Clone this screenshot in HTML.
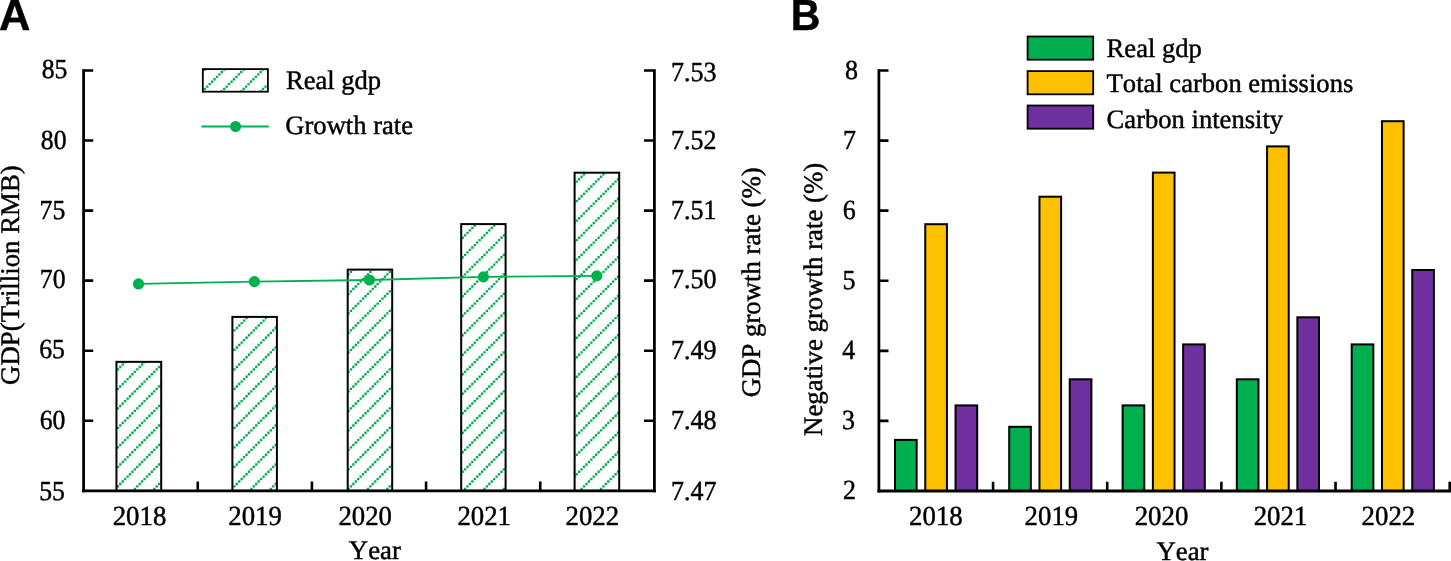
<!DOCTYPE html>
<html><head><meta charset="utf-8"><title>Figure</title>
<style>
html,body{margin:0;padding:0;background:#fff;}
body{width:1451px;height:561px;overflow:hidden;}
svg{display:block;will-change:transform;}
svg text{font-family:"Liberation Serif",serif;fill:#000;font-kerning:none;text-rendering:geometricPrecision;stroke:#000;stroke-width:0.45px;stroke-linejoin:round;}
</style></head><body>
<svg width="1451" height="561" viewBox="0 0 1451 561">
<rect width="1451" height="561" fill="#fff"/>
<defs>
<clipPath id="ca0"><rect x="116.45" y="361.85" width="44.75" height="129.00"/></clipPath>
<clipPath id="ca1"><rect x="232.4" y="316.9" width="44.50" height="173.95"/></clipPath>
<clipPath id="ca2"><rect x="347.7" y="269.6" width="44.50" height="221.25"/></clipPath>
<clipPath id="ca3"><rect x="461.2" y="224.1" width="44.40" height="266.75"/></clipPath>
<clipPath id="ca4"><rect x="574.6" y="172.7" width="44.60" height="318.15"/></clipPath>
<clipPath id="cl"><rect x="202.8" y="69.1" width="65.1" height="22.6"/></clipPath>
</defs>
<path clip-path="url(#ca0)" d="M114.26 370.66h2.35v2.35h-2.35zM114.26 390.16h2.35v2.35h-2.35zM114.26 409.67h2.35v2.35h-2.35zM114.26 429.17h2.35v2.35h-2.35zM114.26 448.68h2.35v2.35h-2.35zM114.26 468.18h2.35v2.35h-2.35zM114.26 487.68h2.35v2.35h-2.35zM116.69 368.22h2.35v2.35h-2.35zM116.69 387.72h2.35v2.35h-2.35zM116.69 407.23h2.35v2.35h-2.35zM116.69 426.73h2.35v2.35h-2.35zM116.69 446.24h2.35v2.35h-2.35zM116.69 465.74h2.35v2.35h-2.35zM116.69 485.25h2.35v2.35h-2.35zM119.11 365.78h2.35v2.35h-2.35zM119.11 385.29h2.35v2.35h-2.35zM119.11 404.79h2.35v2.35h-2.35zM119.11 424.30h2.35v2.35h-2.35zM119.11 443.80h2.35v2.35h-2.35zM119.11 463.30h2.35v2.35h-2.35zM119.11 482.81h2.35v2.35h-2.35zM121.54 363.34h2.35v2.35h-2.35zM121.54 382.85h2.35v2.35h-2.35zM121.54 402.35h2.35v2.35h-2.35zM121.54 421.86h2.35v2.35h-2.35zM121.54 441.36h2.35v2.35h-2.35zM121.54 460.87h2.35v2.35h-2.35zM121.54 480.37h2.35v2.35h-2.35zM123.97 360.91h2.35v2.35h-2.35zM123.97 380.41h2.35v2.35h-2.35zM123.97 399.92h2.35v2.35h-2.35zM123.97 419.42h2.35v2.35h-2.35zM123.97 438.92h2.35v2.35h-2.35zM123.97 458.43h2.35v2.35h-2.35zM123.97 477.93h2.35v2.35h-2.35zM126.40 377.97h2.35v2.35h-2.35zM126.40 397.48h2.35v2.35h-2.35zM126.40 416.98h2.35v2.35h-2.35zM126.40 436.49h2.35v2.35h-2.35zM126.40 455.99h2.35v2.35h-2.35zM126.40 475.49h2.35v2.35h-2.35zM128.82 375.54h2.35v2.35h-2.35zM128.82 395.04h2.35v2.35h-2.35zM128.82 414.54h2.35v2.35h-2.35zM128.82 434.05h2.35v2.35h-2.35zM128.82 453.55h2.35v2.35h-2.35zM128.82 473.06h2.35v2.35h-2.35zM131.25 373.10h2.35v2.35h-2.35zM131.25 392.60h2.35v2.35h-2.35zM131.25 412.11h2.35v2.35h-2.35zM131.25 431.61h2.35v2.35h-2.35zM131.25 451.11h2.35v2.35h-2.35zM131.25 470.62h2.35v2.35h-2.35zM131.25 490.12h2.35v2.35h-2.35zM133.68 370.66h2.35v2.35h-2.35zM133.68 390.16h2.35v2.35h-2.35zM133.68 409.67h2.35v2.35h-2.35zM133.68 429.17h2.35v2.35h-2.35zM133.68 448.68h2.35v2.35h-2.35zM133.68 468.18h2.35v2.35h-2.35zM133.68 487.68h2.35v2.35h-2.35zM136.11 368.22h2.35v2.35h-2.35zM136.11 387.72h2.35v2.35h-2.35zM136.11 407.23h2.35v2.35h-2.35zM136.11 426.73h2.35v2.35h-2.35zM136.11 446.24h2.35v2.35h-2.35zM136.11 465.74h2.35v2.35h-2.35zM136.11 485.25h2.35v2.35h-2.35zM138.54 365.78h2.35v2.35h-2.35zM138.54 385.29h2.35v2.35h-2.35zM138.54 404.79h2.35v2.35h-2.35zM138.54 424.30h2.35v2.35h-2.35zM138.54 443.80h2.35v2.35h-2.35zM138.54 463.30h2.35v2.35h-2.35zM138.54 482.81h2.35v2.35h-2.35zM140.96 363.34h2.35v2.35h-2.35zM140.96 382.85h2.35v2.35h-2.35zM140.96 402.35h2.35v2.35h-2.35zM140.96 421.86h2.35v2.35h-2.35zM140.96 441.36h2.35v2.35h-2.35zM140.96 460.87h2.35v2.35h-2.35zM140.96 480.37h2.35v2.35h-2.35zM143.39 360.91h2.35v2.35h-2.35zM143.39 380.41h2.35v2.35h-2.35zM143.39 399.92h2.35v2.35h-2.35zM143.39 419.42h2.35v2.35h-2.35zM143.39 438.92h2.35v2.35h-2.35zM143.39 458.43h2.35v2.35h-2.35zM143.39 477.93h2.35v2.35h-2.35zM145.82 377.97h2.35v2.35h-2.35zM145.82 397.48h2.35v2.35h-2.35zM145.82 416.98h2.35v2.35h-2.35zM145.82 436.49h2.35v2.35h-2.35zM145.82 455.99h2.35v2.35h-2.35zM145.82 475.49h2.35v2.35h-2.35zM148.25 375.54h2.35v2.35h-2.35zM148.25 395.04h2.35v2.35h-2.35zM148.25 414.54h2.35v2.35h-2.35zM148.25 434.05h2.35v2.35h-2.35zM148.25 453.55h2.35v2.35h-2.35zM148.25 473.06h2.35v2.35h-2.35zM150.68 373.10h2.35v2.35h-2.35zM150.68 392.60h2.35v2.35h-2.35zM150.68 412.11h2.35v2.35h-2.35zM150.68 431.61h2.35v2.35h-2.35zM150.68 451.11h2.35v2.35h-2.35zM150.68 470.62h2.35v2.35h-2.35zM150.68 490.12h2.35v2.35h-2.35zM153.10 370.66h2.35v2.35h-2.35zM153.10 390.16h2.35v2.35h-2.35zM153.10 409.67h2.35v2.35h-2.35zM153.10 429.17h2.35v2.35h-2.35zM153.10 448.68h2.35v2.35h-2.35zM153.10 468.18h2.35v2.35h-2.35zM153.10 487.68h2.35v2.35h-2.35zM155.53 368.22h2.35v2.35h-2.35zM155.53 387.72h2.35v2.35h-2.35zM155.53 407.23h2.35v2.35h-2.35zM155.53 426.73h2.35v2.35h-2.35zM155.53 446.24h2.35v2.35h-2.35zM155.53 465.74h2.35v2.35h-2.35zM155.53 485.25h2.35v2.35h-2.35zM157.96 365.78h2.35v2.35h-2.35zM157.96 385.29h2.35v2.35h-2.35zM157.96 404.79h2.35v2.35h-2.35zM157.96 424.30h2.35v2.35h-2.35zM157.96 443.80h2.35v2.35h-2.35zM157.96 463.30h2.35v2.35h-2.35zM157.96 482.81h2.35v2.35h-2.35zM160.39 363.34h2.35v2.35h-2.35zM160.39 382.85h2.35v2.35h-2.35zM160.39 402.35h2.35v2.35h-2.35zM160.39 421.86h2.35v2.35h-2.35zM160.39 441.36h2.35v2.35h-2.35zM160.39 460.87h2.35v2.35h-2.35zM160.39 480.37h2.35v2.35h-2.35z" fill="#00B050" stroke="none"/>
<rect x="116.45" y="361.85" width="44.75" height="129.00" fill="none" stroke="#000" stroke-width="2"/>
<path clip-path="url(#ca1)" d="M230.80 331.65h2.35v2.35h-2.35zM230.80 351.16h2.35v2.35h-2.35zM230.80 370.66h2.35v2.35h-2.35zM230.80 390.16h2.35v2.35h-2.35zM230.80 409.67h2.35v2.35h-2.35zM230.80 429.17h2.35v2.35h-2.35zM230.80 448.68h2.35v2.35h-2.35zM230.80 468.18h2.35v2.35h-2.35zM230.80 487.68h2.35v2.35h-2.35zM233.23 329.21h2.35v2.35h-2.35zM233.23 348.72h2.35v2.35h-2.35zM233.23 368.22h2.35v2.35h-2.35zM233.23 387.72h2.35v2.35h-2.35zM233.23 407.23h2.35v2.35h-2.35zM233.23 426.73h2.35v2.35h-2.35zM233.23 446.24h2.35v2.35h-2.35zM233.23 465.74h2.35v2.35h-2.35zM233.23 485.25h2.35v2.35h-2.35zM235.66 326.78h2.35v2.35h-2.35zM235.66 346.28h2.35v2.35h-2.35zM235.66 365.78h2.35v2.35h-2.35zM235.66 385.29h2.35v2.35h-2.35zM235.66 404.79h2.35v2.35h-2.35zM235.66 424.30h2.35v2.35h-2.35zM235.66 443.80h2.35v2.35h-2.35zM235.66 463.30h2.35v2.35h-2.35zM235.66 482.81h2.35v2.35h-2.35zM238.08 324.34h2.35v2.35h-2.35zM238.08 343.84h2.35v2.35h-2.35zM238.08 363.34h2.35v2.35h-2.35zM238.08 382.85h2.35v2.35h-2.35zM238.08 402.35h2.35v2.35h-2.35zM238.08 421.86h2.35v2.35h-2.35zM238.08 441.36h2.35v2.35h-2.35zM238.08 460.87h2.35v2.35h-2.35zM238.08 480.37h2.35v2.35h-2.35zM240.51 321.90h2.35v2.35h-2.35zM240.51 341.40h2.35v2.35h-2.35zM240.51 360.91h2.35v2.35h-2.35zM240.51 380.41h2.35v2.35h-2.35zM240.51 399.92h2.35v2.35h-2.35zM240.51 419.42h2.35v2.35h-2.35zM240.51 438.92h2.35v2.35h-2.35zM240.51 458.43h2.35v2.35h-2.35zM240.51 477.93h2.35v2.35h-2.35zM242.94 319.46h2.35v2.35h-2.35zM242.94 338.96h2.35v2.35h-2.35zM242.94 358.47h2.35v2.35h-2.35zM242.94 377.97h2.35v2.35h-2.35zM242.94 397.48h2.35v2.35h-2.35zM242.94 416.98h2.35v2.35h-2.35zM242.94 436.49h2.35v2.35h-2.35zM242.94 455.99h2.35v2.35h-2.35zM242.94 475.49h2.35v2.35h-2.35zM245.37 317.02h2.35v2.35h-2.35zM245.37 336.53h2.35v2.35h-2.35zM245.37 356.03h2.35v2.35h-2.35zM245.37 375.54h2.35v2.35h-2.35zM245.37 395.04h2.35v2.35h-2.35zM245.37 414.54h2.35v2.35h-2.35zM245.37 434.05h2.35v2.35h-2.35zM245.37 453.55h2.35v2.35h-2.35zM245.37 473.06h2.35v2.35h-2.35zM247.80 314.58h2.35v2.35h-2.35zM247.80 334.09h2.35v2.35h-2.35zM247.80 353.59h2.35v2.35h-2.35zM247.80 373.10h2.35v2.35h-2.35zM247.80 392.60h2.35v2.35h-2.35zM247.80 412.11h2.35v2.35h-2.35zM247.80 431.61h2.35v2.35h-2.35zM247.80 451.11h2.35v2.35h-2.35zM247.80 470.62h2.35v2.35h-2.35zM247.80 490.12h2.35v2.35h-2.35zM250.22 331.65h2.35v2.35h-2.35zM250.22 351.16h2.35v2.35h-2.35zM250.22 370.66h2.35v2.35h-2.35zM250.22 390.16h2.35v2.35h-2.35zM250.22 409.67h2.35v2.35h-2.35zM250.22 429.17h2.35v2.35h-2.35zM250.22 448.68h2.35v2.35h-2.35zM250.22 468.18h2.35v2.35h-2.35zM250.22 487.68h2.35v2.35h-2.35zM252.65 329.21h2.35v2.35h-2.35zM252.65 348.72h2.35v2.35h-2.35zM252.65 368.22h2.35v2.35h-2.35zM252.65 387.72h2.35v2.35h-2.35zM252.65 407.23h2.35v2.35h-2.35zM252.65 426.73h2.35v2.35h-2.35zM252.65 446.24h2.35v2.35h-2.35zM252.65 465.74h2.35v2.35h-2.35zM252.65 485.25h2.35v2.35h-2.35zM255.08 326.78h2.35v2.35h-2.35zM255.08 346.28h2.35v2.35h-2.35zM255.08 365.78h2.35v2.35h-2.35zM255.08 385.29h2.35v2.35h-2.35zM255.08 404.79h2.35v2.35h-2.35zM255.08 424.30h2.35v2.35h-2.35zM255.08 443.80h2.35v2.35h-2.35zM255.08 463.30h2.35v2.35h-2.35zM255.08 482.81h2.35v2.35h-2.35zM257.51 324.34h2.35v2.35h-2.35zM257.51 343.84h2.35v2.35h-2.35zM257.51 363.34h2.35v2.35h-2.35zM257.51 382.85h2.35v2.35h-2.35zM257.51 402.35h2.35v2.35h-2.35zM257.51 421.86h2.35v2.35h-2.35zM257.51 441.36h2.35v2.35h-2.35zM257.51 460.87h2.35v2.35h-2.35zM257.51 480.37h2.35v2.35h-2.35zM259.94 321.90h2.35v2.35h-2.35zM259.94 341.40h2.35v2.35h-2.35zM259.94 360.91h2.35v2.35h-2.35zM259.94 380.41h2.35v2.35h-2.35zM259.94 399.92h2.35v2.35h-2.35zM259.94 419.42h2.35v2.35h-2.35zM259.94 438.92h2.35v2.35h-2.35zM259.94 458.43h2.35v2.35h-2.35zM259.94 477.93h2.35v2.35h-2.35zM262.36 319.46h2.35v2.35h-2.35zM262.36 338.96h2.35v2.35h-2.35zM262.36 358.47h2.35v2.35h-2.35zM262.36 377.97h2.35v2.35h-2.35zM262.36 397.48h2.35v2.35h-2.35zM262.36 416.98h2.35v2.35h-2.35zM262.36 436.49h2.35v2.35h-2.35zM262.36 455.99h2.35v2.35h-2.35zM262.36 475.49h2.35v2.35h-2.35zM264.79 317.02h2.35v2.35h-2.35zM264.79 336.53h2.35v2.35h-2.35zM264.79 356.03h2.35v2.35h-2.35zM264.79 375.54h2.35v2.35h-2.35zM264.79 395.04h2.35v2.35h-2.35zM264.79 414.54h2.35v2.35h-2.35zM264.79 434.05h2.35v2.35h-2.35zM264.79 453.55h2.35v2.35h-2.35zM264.79 473.06h2.35v2.35h-2.35zM267.22 314.58h2.35v2.35h-2.35zM267.22 334.09h2.35v2.35h-2.35zM267.22 353.59h2.35v2.35h-2.35zM267.22 373.10h2.35v2.35h-2.35zM267.22 392.60h2.35v2.35h-2.35zM267.22 412.11h2.35v2.35h-2.35zM267.22 431.61h2.35v2.35h-2.35zM267.22 451.11h2.35v2.35h-2.35zM267.22 470.62h2.35v2.35h-2.35zM267.22 490.12h2.35v2.35h-2.35zM269.65 331.65h2.35v2.35h-2.35zM269.65 351.16h2.35v2.35h-2.35zM269.65 370.66h2.35v2.35h-2.35zM269.65 390.16h2.35v2.35h-2.35zM269.65 409.67h2.35v2.35h-2.35zM269.65 429.17h2.35v2.35h-2.35zM269.65 448.68h2.35v2.35h-2.35zM269.65 468.18h2.35v2.35h-2.35zM269.65 487.68h2.35v2.35h-2.35zM272.08 329.21h2.35v2.35h-2.35zM272.08 348.72h2.35v2.35h-2.35zM272.08 368.22h2.35v2.35h-2.35zM272.08 387.72h2.35v2.35h-2.35zM272.08 407.23h2.35v2.35h-2.35zM272.08 426.73h2.35v2.35h-2.35zM272.08 446.24h2.35v2.35h-2.35zM272.08 465.74h2.35v2.35h-2.35zM272.08 485.25h2.35v2.35h-2.35zM274.50 326.78h2.35v2.35h-2.35zM274.50 346.28h2.35v2.35h-2.35zM274.50 365.78h2.35v2.35h-2.35zM274.50 385.29h2.35v2.35h-2.35zM274.50 404.79h2.35v2.35h-2.35zM274.50 424.30h2.35v2.35h-2.35zM274.50 443.80h2.35v2.35h-2.35zM274.50 463.30h2.35v2.35h-2.35zM274.50 482.81h2.35v2.35h-2.35zM276.93 324.34h2.35v2.35h-2.35zM276.93 343.84h2.35v2.35h-2.35zM276.93 363.34h2.35v2.35h-2.35zM276.93 382.85h2.35v2.35h-2.35zM276.93 402.35h2.35v2.35h-2.35zM276.93 421.86h2.35v2.35h-2.35zM276.93 441.36h2.35v2.35h-2.35zM276.93 460.87h2.35v2.35h-2.35zM276.93 480.37h2.35v2.35h-2.35z" fill="#00B050" stroke="none"/>
<rect x="232.4" y="316.9" width="44.50" height="173.95" fill="none" stroke="#000" stroke-width="2"/>
<path clip-path="url(#ca2)" d="M344.92 275.58h2.35v2.35h-2.35zM344.92 295.08h2.35v2.35h-2.35zM344.92 314.58h2.35v2.35h-2.35zM344.92 334.09h2.35v2.35h-2.35zM344.92 353.59h2.35v2.35h-2.35zM344.92 373.10h2.35v2.35h-2.35zM344.92 392.60h2.35v2.35h-2.35zM344.92 412.11h2.35v2.35h-2.35zM344.92 431.61h2.35v2.35h-2.35zM344.92 451.11h2.35v2.35h-2.35zM344.92 470.62h2.35v2.35h-2.35zM344.92 490.12h2.35v2.35h-2.35zM347.34 273.14h2.35v2.35h-2.35zM347.34 292.64h2.35v2.35h-2.35zM347.34 312.15h2.35v2.35h-2.35zM347.34 331.65h2.35v2.35h-2.35zM347.34 351.16h2.35v2.35h-2.35zM347.34 370.66h2.35v2.35h-2.35zM347.34 390.16h2.35v2.35h-2.35zM347.34 409.67h2.35v2.35h-2.35zM347.34 429.17h2.35v2.35h-2.35zM347.34 448.68h2.35v2.35h-2.35zM347.34 468.18h2.35v2.35h-2.35zM347.34 487.68h2.35v2.35h-2.35zM349.77 270.70h2.35v2.35h-2.35zM349.77 290.20h2.35v2.35h-2.35zM349.77 309.71h2.35v2.35h-2.35zM349.77 329.21h2.35v2.35h-2.35zM349.77 348.72h2.35v2.35h-2.35zM349.77 368.22h2.35v2.35h-2.35zM349.77 387.72h2.35v2.35h-2.35zM349.77 407.23h2.35v2.35h-2.35zM349.77 426.73h2.35v2.35h-2.35zM349.77 446.24h2.35v2.35h-2.35zM349.77 465.74h2.35v2.35h-2.35zM349.77 485.25h2.35v2.35h-2.35zM352.20 268.26h2.35v2.35h-2.35zM352.20 287.77h2.35v2.35h-2.35zM352.20 307.27h2.35v2.35h-2.35zM352.20 326.78h2.35v2.35h-2.35zM352.20 346.28h2.35v2.35h-2.35zM352.20 365.78h2.35v2.35h-2.35zM352.20 385.29h2.35v2.35h-2.35zM352.20 404.79h2.35v2.35h-2.35zM352.20 424.30h2.35v2.35h-2.35zM352.20 443.80h2.35v2.35h-2.35zM352.20 463.30h2.35v2.35h-2.35zM352.20 482.81h2.35v2.35h-2.35zM354.63 285.33h2.35v2.35h-2.35zM354.63 304.83h2.35v2.35h-2.35zM354.63 324.34h2.35v2.35h-2.35zM354.63 343.84h2.35v2.35h-2.35zM354.63 363.34h2.35v2.35h-2.35zM354.63 382.85h2.35v2.35h-2.35zM354.63 402.35h2.35v2.35h-2.35zM354.63 421.86h2.35v2.35h-2.35zM354.63 441.36h2.35v2.35h-2.35zM354.63 460.87h2.35v2.35h-2.35zM354.63 480.37h2.35v2.35h-2.35zM357.06 282.89h2.35v2.35h-2.35zM357.06 302.39h2.35v2.35h-2.35zM357.06 321.90h2.35v2.35h-2.35zM357.06 341.40h2.35v2.35h-2.35zM357.06 360.91h2.35v2.35h-2.35zM357.06 380.41h2.35v2.35h-2.35zM357.06 399.92h2.35v2.35h-2.35zM357.06 419.42h2.35v2.35h-2.35zM357.06 438.92h2.35v2.35h-2.35zM357.06 458.43h2.35v2.35h-2.35zM357.06 477.93h2.35v2.35h-2.35zM359.48 280.45h2.35v2.35h-2.35zM359.48 299.96h2.35v2.35h-2.35zM359.48 319.46h2.35v2.35h-2.35zM359.48 338.96h2.35v2.35h-2.35zM359.48 358.47h2.35v2.35h-2.35zM359.48 377.97h2.35v2.35h-2.35zM359.48 397.48h2.35v2.35h-2.35zM359.48 416.98h2.35v2.35h-2.35zM359.48 436.49h2.35v2.35h-2.35zM359.48 455.99h2.35v2.35h-2.35zM359.48 475.49h2.35v2.35h-2.35zM361.91 278.01h2.35v2.35h-2.35zM361.91 297.52h2.35v2.35h-2.35zM361.91 317.02h2.35v2.35h-2.35zM361.91 336.53h2.35v2.35h-2.35zM361.91 356.03h2.35v2.35h-2.35zM361.91 375.54h2.35v2.35h-2.35zM361.91 395.04h2.35v2.35h-2.35zM361.91 414.54h2.35v2.35h-2.35zM361.91 434.05h2.35v2.35h-2.35zM361.91 453.55h2.35v2.35h-2.35zM361.91 473.06h2.35v2.35h-2.35zM364.34 275.58h2.35v2.35h-2.35zM364.34 295.08h2.35v2.35h-2.35zM364.34 314.58h2.35v2.35h-2.35zM364.34 334.09h2.35v2.35h-2.35zM364.34 353.59h2.35v2.35h-2.35zM364.34 373.10h2.35v2.35h-2.35zM364.34 392.60h2.35v2.35h-2.35zM364.34 412.11h2.35v2.35h-2.35zM364.34 431.61h2.35v2.35h-2.35zM364.34 451.11h2.35v2.35h-2.35zM364.34 470.62h2.35v2.35h-2.35zM364.34 490.12h2.35v2.35h-2.35zM366.77 273.14h2.35v2.35h-2.35zM366.77 292.64h2.35v2.35h-2.35zM366.77 312.15h2.35v2.35h-2.35zM366.77 331.65h2.35v2.35h-2.35zM366.77 351.16h2.35v2.35h-2.35zM366.77 370.66h2.35v2.35h-2.35zM366.77 390.16h2.35v2.35h-2.35zM366.77 409.67h2.35v2.35h-2.35zM366.77 429.17h2.35v2.35h-2.35zM366.77 448.68h2.35v2.35h-2.35zM366.77 468.18h2.35v2.35h-2.35zM366.77 487.68h2.35v2.35h-2.35zM369.20 270.70h2.35v2.35h-2.35zM369.20 290.20h2.35v2.35h-2.35zM369.20 309.71h2.35v2.35h-2.35zM369.20 329.21h2.35v2.35h-2.35zM369.20 348.72h2.35v2.35h-2.35zM369.20 368.22h2.35v2.35h-2.35zM369.20 387.72h2.35v2.35h-2.35zM369.20 407.23h2.35v2.35h-2.35zM369.20 426.73h2.35v2.35h-2.35zM369.20 446.24h2.35v2.35h-2.35zM369.20 465.74h2.35v2.35h-2.35zM369.20 485.25h2.35v2.35h-2.35zM371.62 268.26h2.35v2.35h-2.35zM371.62 287.77h2.35v2.35h-2.35zM371.62 307.27h2.35v2.35h-2.35zM371.62 326.78h2.35v2.35h-2.35zM371.62 346.28h2.35v2.35h-2.35zM371.62 365.78h2.35v2.35h-2.35zM371.62 385.29h2.35v2.35h-2.35zM371.62 404.79h2.35v2.35h-2.35zM371.62 424.30h2.35v2.35h-2.35zM371.62 443.80h2.35v2.35h-2.35zM371.62 463.30h2.35v2.35h-2.35zM371.62 482.81h2.35v2.35h-2.35zM374.05 285.33h2.35v2.35h-2.35zM374.05 304.83h2.35v2.35h-2.35zM374.05 324.34h2.35v2.35h-2.35zM374.05 343.84h2.35v2.35h-2.35zM374.05 363.34h2.35v2.35h-2.35zM374.05 382.85h2.35v2.35h-2.35zM374.05 402.35h2.35v2.35h-2.35zM374.05 421.86h2.35v2.35h-2.35zM374.05 441.36h2.35v2.35h-2.35zM374.05 460.87h2.35v2.35h-2.35zM374.05 480.37h2.35v2.35h-2.35zM376.48 282.89h2.35v2.35h-2.35zM376.48 302.39h2.35v2.35h-2.35zM376.48 321.90h2.35v2.35h-2.35zM376.48 341.40h2.35v2.35h-2.35zM376.48 360.91h2.35v2.35h-2.35zM376.48 380.41h2.35v2.35h-2.35zM376.48 399.92h2.35v2.35h-2.35zM376.48 419.42h2.35v2.35h-2.35zM376.48 438.92h2.35v2.35h-2.35zM376.48 458.43h2.35v2.35h-2.35zM376.48 477.93h2.35v2.35h-2.35zM378.91 280.45h2.35v2.35h-2.35zM378.91 299.96h2.35v2.35h-2.35zM378.91 319.46h2.35v2.35h-2.35zM378.91 338.96h2.35v2.35h-2.35zM378.91 358.47h2.35v2.35h-2.35zM378.91 377.97h2.35v2.35h-2.35zM378.91 397.48h2.35v2.35h-2.35zM378.91 416.98h2.35v2.35h-2.35zM378.91 436.49h2.35v2.35h-2.35zM378.91 455.99h2.35v2.35h-2.35zM378.91 475.49h2.35v2.35h-2.35zM381.34 278.01h2.35v2.35h-2.35zM381.34 297.52h2.35v2.35h-2.35zM381.34 317.02h2.35v2.35h-2.35zM381.34 336.53h2.35v2.35h-2.35zM381.34 356.03h2.35v2.35h-2.35zM381.34 375.54h2.35v2.35h-2.35zM381.34 395.04h2.35v2.35h-2.35zM381.34 414.54h2.35v2.35h-2.35zM381.34 434.05h2.35v2.35h-2.35zM381.34 453.55h2.35v2.35h-2.35zM381.34 473.06h2.35v2.35h-2.35zM383.76 275.58h2.35v2.35h-2.35zM383.76 295.08h2.35v2.35h-2.35zM383.76 314.58h2.35v2.35h-2.35zM383.76 334.09h2.35v2.35h-2.35zM383.76 353.59h2.35v2.35h-2.35zM383.76 373.10h2.35v2.35h-2.35zM383.76 392.60h2.35v2.35h-2.35zM383.76 412.11h2.35v2.35h-2.35zM383.76 431.61h2.35v2.35h-2.35zM383.76 451.11h2.35v2.35h-2.35zM383.76 470.62h2.35v2.35h-2.35zM383.76 490.12h2.35v2.35h-2.35zM386.19 273.14h2.35v2.35h-2.35zM386.19 292.64h2.35v2.35h-2.35zM386.19 312.15h2.35v2.35h-2.35zM386.19 331.65h2.35v2.35h-2.35zM386.19 351.16h2.35v2.35h-2.35zM386.19 370.66h2.35v2.35h-2.35zM386.19 390.16h2.35v2.35h-2.35zM386.19 409.67h2.35v2.35h-2.35zM386.19 429.17h2.35v2.35h-2.35zM386.19 448.68h2.35v2.35h-2.35zM386.19 468.18h2.35v2.35h-2.35zM386.19 487.68h2.35v2.35h-2.35zM388.62 270.70h2.35v2.35h-2.35zM388.62 290.20h2.35v2.35h-2.35zM388.62 309.71h2.35v2.35h-2.35zM388.62 329.21h2.35v2.35h-2.35zM388.62 348.72h2.35v2.35h-2.35zM388.62 368.22h2.35v2.35h-2.35zM388.62 387.72h2.35v2.35h-2.35zM388.62 407.23h2.35v2.35h-2.35zM388.62 426.73h2.35v2.35h-2.35zM388.62 446.24h2.35v2.35h-2.35zM388.62 465.74h2.35v2.35h-2.35zM388.62 485.25h2.35v2.35h-2.35zM391.05 268.26h2.35v2.35h-2.35zM391.05 287.77h2.35v2.35h-2.35zM391.05 307.27h2.35v2.35h-2.35zM391.05 326.78h2.35v2.35h-2.35zM391.05 346.28h2.35v2.35h-2.35zM391.05 365.78h2.35v2.35h-2.35zM391.05 385.29h2.35v2.35h-2.35zM391.05 404.79h2.35v2.35h-2.35zM391.05 424.30h2.35v2.35h-2.35zM391.05 443.80h2.35v2.35h-2.35zM391.05 463.30h2.35v2.35h-2.35zM391.05 482.81h2.35v2.35h-2.35z" fill="#00B050" stroke="none"/>
<rect x="347.7" y="269.6" width="44.50" height="221.25" fill="none" stroke="#000" stroke-width="2"/>
<path clip-path="url(#ca3)" d="M459.03 239.01h2.35v2.35h-2.35zM459.03 258.51h2.35v2.35h-2.35zM459.03 278.01h2.35v2.35h-2.35zM459.03 297.52h2.35v2.35h-2.35zM459.03 317.02h2.35v2.35h-2.35zM459.03 336.53h2.35v2.35h-2.35zM459.03 356.03h2.35v2.35h-2.35zM459.03 375.54h2.35v2.35h-2.35zM459.03 395.04h2.35v2.35h-2.35zM459.03 414.54h2.35v2.35h-2.35zM459.03 434.05h2.35v2.35h-2.35zM459.03 453.55h2.35v2.35h-2.35zM459.03 473.06h2.35v2.35h-2.35zM461.46 236.57h2.35v2.35h-2.35zM461.46 256.07h2.35v2.35h-2.35zM461.46 275.58h2.35v2.35h-2.35zM461.46 295.08h2.35v2.35h-2.35zM461.46 314.58h2.35v2.35h-2.35zM461.46 334.09h2.35v2.35h-2.35zM461.46 353.59h2.35v2.35h-2.35zM461.46 373.10h2.35v2.35h-2.35zM461.46 392.60h2.35v2.35h-2.35zM461.46 412.11h2.35v2.35h-2.35zM461.46 431.61h2.35v2.35h-2.35zM461.46 451.11h2.35v2.35h-2.35zM461.46 470.62h2.35v2.35h-2.35zM461.46 490.12h2.35v2.35h-2.35zM463.89 234.13h2.35v2.35h-2.35zM463.89 253.63h2.35v2.35h-2.35zM463.89 273.14h2.35v2.35h-2.35zM463.89 292.64h2.35v2.35h-2.35zM463.89 312.15h2.35v2.35h-2.35zM463.89 331.65h2.35v2.35h-2.35zM463.89 351.16h2.35v2.35h-2.35zM463.89 370.66h2.35v2.35h-2.35zM463.89 390.16h2.35v2.35h-2.35zM463.89 409.67h2.35v2.35h-2.35zM463.89 429.17h2.35v2.35h-2.35zM463.89 448.68h2.35v2.35h-2.35zM463.89 468.18h2.35v2.35h-2.35zM463.89 487.68h2.35v2.35h-2.35zM466.32 231.69h2.35v2.35h-2.35zM466.32 251.20h2.35v2.35h-2.35zM466.32 270.70h2.35v2.35h-2.35zM466.32 290.20h2.35v2.35h-2.35zM466.32 309.71h2.35v2.35h-2.35zM466.32 329.21h2.35v2.35h-2.35zM466.32 348.72h2.35v2.35h-2.35zM466.32 368.22h2.35v2.35h-2.35zM466.32 387.72h2.35v2.35h-2.35zM466.32 407.23h2.35v2.35h-2.35zM466.32 426.73h2.35v2.35h-2.35zM466.32 446.24h2.35v2.35h-2.35zM466.32 465.74h2.35v2.35h-2.35zM466.32 485.25h2.35v2.35h-2.35zM468.75 229.25h2.35v2.35h-2.35zM468.75 248.76h2.35v2.35h-2.35zM468.75 268.26h2.35v2.35h-2.35zM468.75 287.77h2.35v2.35h-2.35zM468.75 307.27h2.35v2.35h-2.35zM468.75 326.78h2.35v2.35h-2.35zM468.75 346.28h2.35v2.35h-2.35zM468.75 365.78h2.35v2.35h-2.35zM468.75 385.29h2.35v2.35h-2.35zM468.75 404.79h2.35v2.35h-2.35zM468.75 424.30h2.35v2.35h-2.35zM468.75 443.80h2.35v2.35h-2.35zM468.75 463.30h2.35v2.35h-2.35zM468.75 482.81h2.35v2.35h-2.35zM471.17 226.82h2.35v2.35h-2.35zM471.17 246.32h2.35v2.35h-2.35zM471.17 265.82h2.35v2.35h-2.35zM471.17 285.33h2.35v2.35h-2.35zM471.17 304.83h2.35v2.35h-2.35zM471.17 324.34h2.35v2.35h-2.35zM471.17 343.84h2.35v2.35h-2.35zM471.17 363.34h2.35v2.35h-2.35zM471.17 382.85h2.35v2.35h-2.35zM471.17 402.35h2.35v2.35h-2.35zM471.17 421.86h2.35v2.35h-2.35zM471.17 441.36h2.35v2.35h-2.35zM471.17 460.87h2.35v2.35h-2.35zM471.17 480.37h2.35v2.35h-2.35zM473.60 224.38h2.35v2.35h-2.35zM473.60 243.88h2.35v2.35h-2.35zM473.60 263.39h2.35v2.35h-2.35zM473.60 282.89h2.35v2.35h-2.35zM473.60 302.39h2.35v2.35h-2.35zM473.60 321.90h2.35v2.35h-2.35zM473.60 341.40h2.35v2.35h-2.35zM473.60 360.91h2.35v2.35h-2.35zM473.60 380.41h2.35v2.35h-2.35zM473.60 399.92h2.35v2.35h-2.35zM473.60 419.42h2.35v2.35h-2.35zM473.60 438.92h2.35v2.35h-2.35zM473.60 458.43h2.35v2.35h-2.35zM473.60 477.93h2.35v2.35h-2.35zM476.03 221.94h2.35v2.35h-2.35zM476.03 241.44h2.35v2.35h-2.35zM476.03 260.95h2.35v2.35h-2.35zM476.03 280.45h2.35v2.35h-2.35zM476.03 299.96h2.35v2.35h-2.35zM476.03 319.46h2.35v2.35h-2.35zM476.03 338.96h2.35v2.35h-2.35zM476.03 358.47h2.35v2.35h-2.35zM476.03 377.97h2.35v2.35h-2.35zM476.03 397.48h2.35v2.35h-2.35zM476.03 416.98h2.35v2.35h-2.35zM476.03 436.49h2.35v2.35h-2.35zM476.03 455.99h2.35v2.35h-2.35zM476.03 475.49h2.35v2.35h-2.35zM478.46 239.01h2.35v2.35h-2.35zM478.46 258.51h2.35v2.35h-2.35zM478.46 278.01h2.35v2.35h-2.35zM478.46 297.52h2.35v2.35h-2.35zM478.46 317.02h2.35v2.35h-2.35zM478.46 336.53h2.35v2.35h-2.35zM478.46 356.03h2.35v2.35h-2.35zM478.46 375.54h2.35v2.35h-2.35zM478.46 395.04h2.35v2.35h-2.35zM478.46 414.54h2.35v2.35h-2.35zM478.46 434.05h2.35v2.35h-2.35zM478.46 453.55h2.35v2.35h-2.35zM478.46 473.06h2.35v2.35h-2.35zM480.88 236.57h2.35v2.35h-2.35zM480.88 256.07h2.35v2.35h-2.35zM480.88 275.58h2.35v2.35h-2.35zM480.88 295.08h2.35v2.35h-2.35zM480.88 314.58h2.35v2.35h-2.35zM480.88 334.09h2.35v2.35h-2.35zM480.88 353.59h2.35v2.35h-2.35zM480.88 373.10h2.35v2.35h-2.35zM480.88 392.60h2.35v2.35h-2.35zM480.88 412.11h2.35v2.35h-2.35zM480.88 431.61h2.35v2.35h-2.35zM480.88 451.11h2.35v2.35h-2.35zM480.88 470.62h2.35v2.35h-2.35zM480.88 490.12h2.35v2.35h-2.35zM483.31 234.13h2.35v2.35h-2.35zM483.31 253.63h2.35v2.35h-2.35zM483.31 273.14h2.35v2.35h-2.35zM483.31 292.64h2.35v2.35h-2.35zM483.31 312.15h2.35v2.35h-2.35zM483.31 331.65h2.35v2.35h-2.35zM483.31 351.16h2.35v2.35h-2.35zM483.31 370.66h2.35v2.35h-2.35zM483.31 390.16h2.35v2.35h-2.35zM483.31 409.67h2.35v2.35h-2.35zM483.31 429.17h2.35v2.35h-2.35zM483.31 448.68h2.35v2.35h-2.35zM483.31 468.18h2.35v2.35h-2.35zM483.31 487.68h2.35v2.35h-2.35zM485.74 231.69h2.35v2.35h-2.35zM485.74 251.20h2.35v2.35h-2.35zM485.74 270.70h2.35v2.35h-2.35zM485.74 290.20h2.35v2.35h-2.35zM485.74 309.71h2.35v2.35h-2.35zM485.74 329.21h2.35v2.35h-2.35zM485.74 348.72h2.35v2.35h-2.35zM485.74 368.22h2.35v2.35h-2.35zM485.74 387.72h2.35v2.35h-2.35zM485.74 407.23h2.35v2.35h-2.35zM485.74 426.73h2.35v2.35h-2.35zM485.74 446.24h2.35v2.35h-2.35zM485.74 465.74h2.35v2.35h-2.35zM485.74 485.25h2.35v2.35h-2.35zM488.17 229.25h2.35v2.35h-2.35zM488.17 248.76h2.35v2.35h-2.35zM488.17 268.26h2.35v2.35h-2.35zM488.17 287.77h2.35v2.35h-2.35zM488.17 307.27h2.35v2.35h-2.35zM488.17 326.78h2.35v2.35h-2.35zM488.17 346.28h2.35v2.35h-2.35zM488.17 365.78h2.35v2.35h-2.35zM488.17 385.29h2.35v2.35h-2.35zM488.17 404.79h2.35v2.35h-2.35zM488.17 424.30h2.35v2.35h-2.35zM488.17 443.80h2.35v2.35h-2.35zM488.17 463.30h2.35v2.35h-2.35zM488.17 482.81h2.35v2.35h-2.35zM490.60 226.82h2.35v2.35h-2.35zM490.60 246.32h2.35v2.35h-2.35zM490.60 265.82h2.35v2.35h-2.35zM490.60 285.33h2.35v2.35h-2.35zM490.60 304.83h2.35v2.35h-2.35zM490.60 324.34h2.35v2.35h-2.35zM490.60 343.84h2.35v2.35h-2.35zM490.60 363.34h2.35v2.35h-2.35zM490.60 382.85h2.35v2.35h-2.35zM490.60 402.35h2.35v2.35h-2.35zM490.60 421.86h2.35v2.35h-2.35zM490.60 441.36h2.35v2.35h-2.35zM490.60 460.87h2.35v2.35h-2.35zM490.60 480.37h2.35v2.35h-2.35zM493.02 224.38h2.35v2.35h-2.35zM493.02 243.88h2.35v2.35h-2.35zM493.02 263.39h2.35v2.35h-2.35zM493.02 282.89h2.35v2.35h-2.35zM493.02 302.39h2.35v2.35h-2.35zM493.02 321.90h2.35v2.35h-2.35zM493.02 341.40h2.35v2.35h-2.35zM493.02 360.91h2.35v2.35h-2.35zM493.02 380.41h2.35v2.35h-2.35zM493.02 399.92h2.35v2.35h-2.35zM493.02 419.42h2.35v2.35h-2.35zM493.02 438.92h2.35v2.35h-2.35zM493.02 458.43h2.35v2.35h-2.35zM493.02 477.93h2.35v2.35h-2.35zM495.45 221.94h2.35v2.35h-2.35zM495.45 241.44h2.35v2.35h-2.35zM495.45 260.95h2.35v2.35h-2.35zM495.45 280.45h2.35v2.35h-2.35zM495.45 299.96h2.35v2.35h-2.35zM495.45 319.46h2.35v2.35h-2.35zM495.45 338.96h2.35v2.35h-2.35zM495.45 358.47h2.35v2.35h-2.35zM495.45 377.97h2.35v2.35h-2.35zM495.45 397.48h2.35v2.35h-2.35zM495.45 416.98h2.35v2.35h-2.35zM495.45 436.49h2.35v2.35h-2.35zM495.45 455.99h2.35v2.35h-2.35zM495.45 475.49h2.35v2.35h-2.35zM497.88 239.01h2.35v2.35h-2.35zM497.88 258.51h2.35v2.35h-2.35zM497.88 278.01h2.35v2.35h-2.35zM497.88 297.52h2.35v2.35h-2.35zM497.88 317.02h2.35v2.35h-2.35zM497.88 336.53h2.35v2.35h-2.35zM497.88 356.03h2.35v2.35h-2.35zM497.88 375.54h2.35v2.35h-2.35zM497.88 395.04h2.35v2.35h-2.35zM497.88 414.54h2.35v2.35h-2.35zM497.88 434.05h2.35v2.35h-2.35zM497.88 453.55h2.35v2.35h-2.35zM497.88 473.06h2.35v2.35h-2.35zM500.31 236.57h2.35v2.35h-2.35zM500.31 256.07h2.35v2.35h-2.35zM500.31 275.58h2.35v2.35h-2.35zM500.31 295.08h2.35v2.35h-2.35zM500.31 314.58h2.35v2.35h-2.35zM500.31 334.09h2.35v2.35h-2.35zM500.31 353.59h2.35v2.35h-2.35zM500.31 373.10h2.35v2.35h-2.35zM500.31 392.60h2.35v2.35h-2.35zM500.31 412.11h2.35v2.35h-2.35zM500.31 431.61h2.35v2.35h-2.35zM500.31 451.11h2.35v2.35h-2.35zM500.31 470.62h2.35v2.35h-2.35zM500.31 490.12h2.35v2.35h-2.35zM502.74 234.13h2.35v2.35h-2.35zM502.74 253.63h2.35v2.35h-2.35zM502.74 273.14h2.35v2.35h-2.35zM502.74 292.64h2.35v2.35h-2.35zM502.74 312.15h2.35v2.35h-2.35zM502.74 331.65h2.35v2.35h-2.35zM502.74 351.16h2.35v2.35h-2.35zM502.74 370.66h2.35v2.35h-2.35zM502.74 390.16h2.35v2.35h-2.35zM502.74 409.67h2.35v2.35h-2.35zM502.74 429.17h2.35v2.35h-2.35zM502.74 448.68h2.35v2.35h-2.35zM502.74 468.18h2.35v2.35h-2.35zM502.74 487.68h2.35v2.35h-2.35zM505.16 231.69h2.35v2.35h-2.35zM505.16 251.20h2.35v2.35h-2.35zM505.16 270.70h2.35v2.35h-2.35zM505.16 290.20h2.35v2.35h-2.35zM505.16 309.71h2.35v2.35h-2.35zM505.16 329.21h2.35v2.35h-2.35zM505.16 348.72h2.35v2.35h-2.35zM505.16 368.22h2.35v2.35h-2.35zM505.16 387.72h2.35v2.35h-2.35zM505.16 407.23h2.35v2.35h-2.35zM505.16 426.73h2.35v2.35h-2.35zM505.16 446.24h2.35v2.35h-2.35zM505.16 465.74h2.35v2.35h-2.35zM505.16 485.25h2.35v2.35h-2.35z" fill="#00B050" stroke="none"/>
<rect x="461.2" y="224.1" width="44.40" height="266.75" fill="none" stroke="#000" stroke-width="2"/>
<path clip-path="url(#ca4)" d="M573.15 182.93h2.35v2.35h-2.35zM573.15 202.44h2.35v2.35h-2.35zM573.15 221.94h2.35v2.35h-2.35zM573.15 241.44h2.35v2.35h-2.35zM573.15 260.95h2.35v2.35h-2.35zM573.15 280.45h2.35v2.35h-2.35zM573.15 299.96h2.35v2.35h-2.35zM573.15 319.46h2.35v2.35h-2.35zM573.15 338.96h2.35v2.35h-2.35zM573.15 358.47h2.35v2.35h-2.35zM573.15 377.97h2.35v2.35h-2.35zM573.15 397.48h2.35v2.35h-2.35zM573.15 416.98h2.35v2.35h-2.35zM573.15 436.49h2.35v2.35h-2.35zM573.15 455.99h2.35v2.35h-2.35zM573.15 475.49h2.35v2.35h-2.35zM575.58 180.50h2.35v2.35h-2.35zM575.58 200.00h2.35v2.35h-2.35zM575.58 219.50h2.35v2.35h-2.35zM575.58 239.01h2.35v2.35h-2.35zM575.58 258.51h2.35v2.35h-2.35zM575.58 278.01h2.35v2.35h-2.35zM575.58 297.52h2.35v2.35h-2.35zM575.58 317.02h2.35v2.35h-2.35zM575.58 336.53h2.35v2.35h-2.35zM575.58 356.03h2.35v2.35h-2.35zM575.58 375.54h2.35v2.35h-2.35zM575.58 395.04h2.35v2.35h-2.35zM575.58 414.54h2.35v2.35h-2.35zM575.58 434.05h2.35v2.35h-2.35zM575.58 453.55h2.35v2.35h-2.35zM575.58 473.06h2.35v2.35h-2.35zM578.01 178.06h2.35v2.35h-2.35zM578.01 197.56h2.35v2.35h-2.35zM578.01 217.06h2.35v2.35h-2.35zM578.01 236.57h2.35v2.35h-2.35zM578.01 256.07h2.35v2.35h-2.35zM578.01 275.58h2.35v2.35h-2.35zM578.01 295.08h2.35v2.35h-2.35zM578.01 314.58h2.35v2.35h-2.35zM578.01 334.09h2.35v2.35h-2.35zM578.01 353.59h2.35v2.35h-2.35zM578.01 373.10h2.35v2.35h-2.35zM578.01 392.60h2.35v2.35h-2.35zM578.01 412.11h2.35v2.35h-2.35zM578.01 431.61h2.35v2.35h-2.35zM578.01 451.11h2.35v2.35h-2.35zM578.01 470.62h2.35v2.35h-2.35zM578.01 490.12h2.35v2.35h-2.35zM580.43 175.62h2.35v2.35h-2.35zM580.43 195.12h2.35v2.35h-2.35zM580.43 214.63h2.35v2.35h-2.35zM580.43 234.13h2.35v2.35h-2.35zM580.43 253.63h2.35v2.35h-2.35zM580.43 273.14h2.35v2.35h-2.35zM580.43 292.64h2.35v2.35h-2.35zM580.43 312.15h2.35v2.35h-2.35zM580.43 331.65h2.35v2.35h-2.35zM580.43 351.16h2.35v2.35h-2.35zM580.43 370.66h2.35v2.35h-2.35zM580.43 390.16h2.35v2.35h-2.35zM580.43 409.67h2.35v2.35h-2.35zM580.43 429.17h2.35v2.35h-2.35zM580.43 448.68h2.35v2.35h-2.35zM580.43 468.18h2.35v2.35h-2.35zM580.43 487.68h2.35v2.35h-2.35zM582.86 173.18h2.35v2.35h-2.35zM582.86 192.69h2.35v2.35h-2.35zM582.86 212.19h2.35v2.35h-2.35zM582.86 231.69h2.35v2.35h-2.35zM582.86 251.20h2.35v2.35h-2.35zM582.86 270.70h2.35v2.35h-2.35zM582.86 290.20h2.35v2.35h-2.35zM582.86 309.71h2.35v2.35h-2.35zM582.86 329.21h2.35v2.35h-2.35zM582.86 348.72h2.35v2.35h-2.35zM582.86 368.22h2.35v2.35h-2.35zM582.86 387.72h2.35v2.35h-2.35zM582.86 407.23h2.35v2.35h-2.35zM582.86 426.73h2.35v2.35h-2.35zM582.86 446.24h2.35v2.35h-2.35zM582.86 465.74h2.35v2.35h-2.35zM582.86 485.25h2.35v2.35h-2.35zM585.29 170.74h2.35v2.35h-2.35zM585.29 190.25h2.35v2.35h-2.35zM585.29 209.75h2.35v2.35h-2.35zM585.29 229.25h2.35v2.35h-2.35zM585.29 248.76h2.35v2.35h-2.35zM585.29 268.26h2.35v2.35h-2.35zM585.29 287.77h2.35v2.35h-2.35zM585.29 307.27h2.35v2.35h-2.35zM585.29 326.78h2.35v2.35h-2.35zM585.29 346.28h2.35v2.35h-2.35zM585.29 365.78h2.35v2.35h-2.35zM585.29 385.29h2.35v2.35h-2.35zM585.29 404.79h2.35v2.35h-2.35zM585.29 424.30h2.35v2.35h-2.35zM585.29 443.80h2.35v2.35h-2.35zM585.29 463.30h2.35v2.35h-2.35zM585.29 482.81h2.35v2.35h-2.35zM587.72 187.81h2.35v2.35h-2.35zM587.72 207.31h2.35v2.35h-2.35zM587.72 226.82h2.35v2.35h-2.35zM587.72 246.32h2.35v2.35h-2.35zM587.72 265.82h2.35v2.35h-2.35zM587.72 285.33h2.35v2.35h-2.35zM587.72 304.83h2.35v2.35h-2.35zM587.72 324.34h2.35v2.35h-2.35zM587.72 343.84h2.35v2.35h-2.35zM587.72 363.34h2.35v2.35h-2.35zM587.72 382.85h2.35v2.35h-2.35zM587.72 402.35h2.35v2.35h-2.35zM587.72 421.86h2.35v2.35h-2.35zM587.72 441.36h2.35v2.35h-2.35zM587.72 460.87h2.35v2.35h-2.35zM587.72 480.37h2.35v2.35h-2.35zM590.14 185.37h2.35v2.35h-2.35zM590.14 204.88h2.35v2.35h-2.35zM590.14 224.38h2.35v2.35h-2.35zM590.14 243.88h2.35v2.35h-2.35zM590.14 263.39h2.35v2.35h-2.35zM590.14 282.89h2.35v2.35h-2.35zM590.14 302.39h2.35v2.35h-2.35zM590.14 321.90h2.35v2.35h-2.35zM590.14 341.40h2.35v2.35h-2.35zM590.14 360.91h2.35v2.35h-2.35zM590.14 380.41h2.35v2.35h-2.35zM590.14 399.92h2.35v2.35h-2.35zM590.14 419.42h2.35v2.35h-2.35zM590.14 438.92h2.35v2.35h-2.35zM590.14 458.43h2.35v2.35h-2.35zM590.14 477.93h2.35v2.35h-2.35zM592.57 182.93h2.35v2.35h-2.35zM592.57 202.44h2.35v2.35h-2.35zM592.57 221.94h2.35v2.35h-2.35zM592.57 241.44h2.35v2.35h-2.35zM592.57 260.95h2.35v2.35h-2.35zM592.57 280.45h2.35v2.35h-2.35zM592.57 299.96h2.35v2.35h-2.35zM592.57 319.46h2.35v2.35h-2.35zM592.57 338.96h2.35v2.35h-2.35zM592.57 358.47h2.35v2.35h-2.35zM592.57 377.97h2.35v2.35h-2.35zM592.57 397.48h2.35v2.35h-2.35zM592.57 416.98h2.35v2.35h-2.35zM592.57 436.49h2.35v2.35h-2.35zM592.57 455.99h2.35v2.35h-2.35zM592.57 475.49h2.35v2.35h-2.35zM595.00 180.50h2.35v2.35h-2.35zM595.00 200.00h2.35v2.35h-2.35zM595.00 219.50h2.35v2.35h-2.35zM595.00 239.01h2.35v2.35h-2.35zM595.00 258.51h2.35v2.35h-2.35zM595.00 278.01h2.35v2.35h-2.35zM595.00 297.52h2.35v2.35h-2.35zM595.00 317.02h2.35v2.35h-2.35zM595.00 336.53h2.35v2.35h-2.35zM595.00 356.03h2.35v2.35h-2.35zM595.00 375.54h2.35v2.35h-2.35zM595.00 395.04h2.35v2.35h-2.35zM595.00 414.54h2.35v2.35h-2.35zM595.00 434.05h2.35v2.35h-2.35zM595.00 453.55h2.35v2.35h-2.35zM595.00 473.06h2.35v2.35h-2.35zM597.43 178.06h2.35v2.35h-2.35zM597.43 197.56h2.35v2.35h-2.35zM597.43 217.06h2.35v2.35h-2.35zM597.43 236.57h2.35v2.35h-2.35zM597.43 256.07h2.35v2.35h-2.35zM597.43 275.58h2.35v2.35h-2.35zM597.43 295.08h2.35v2.35h-2.35zM597.43 314.58h2.35v2.35h-2.35zM597.43 334.09h2.35v2.35h-2.35zM597.43 353.59h2.35v2.35h-2.35zM597.43 373.10h2.35v2.35h-2.35zM597.43 392.60h2.35v2.35h-2.35zM597.43 412.11h2.35v2.35h-2.35zM597.43 431.61h2.35v2.35h-2.35zM597.43 451.11h2.35v2.35h-2.35zM597.43 470.62h2.35v2.35h-2.35zM597.43 490.12h2.35v2.35h-2.35zM599.86 175.62h2.35v2.35h-2.35zM599.86 195.12h2.35v2.35h-2.35zM599.86 214.63h2.35v2.35h-2.35zM599.86 234.13h2.35v2.35h-2.35zM599.86 253.63h2.35v2.35h-2.35zM599.86 273.14h2.35v2.35h-2.35zM599.86 292.64h2.35v2.35h-2.35zM599.86 312.15h2.35v2.35h-2.35zM599.86 331.65h2.35v2.35h-2.35zM599.86 351.16h2.35v2.35h-2.35zM599.86 370.66h2.35v2.35h-2.35zM599.86 390.16h2.35v2.35h-2.35zM599.86 409.67h2.35v2.35h-2.35zM599.86 429.17h2.35v2.35h-2.35zM599.86 448.68h2.35v2.35h-2.35zM599.86 468.18h2.35v2.35h-2.35zM599.86 487.68h2.35v2.35h-2.35zM602.29 173.18h2.35v2.35h-2.35zM602.29 192.69h2.35v2.35h-2.35zM602.29 212.19h2.35v2.35h-2.35zM602.29 231.69h2.35v2.35h-2.35zM602.29 251.20h2.35v2.35h-2.35zM602.29 270.70h2.35v2.35h-2.35zM602.29 290.20h2.35v2.35h-2.35zM602.29 309.71h2.35v2.35h-2.35zM602.29 329.21h2.35v2.35h-2.35zM602.29 348.72h2.35v2.35h-2.35zM602.29 368.22h2.35v2.35h-2.35zM602.29 387.72h2.35v2.35h-2.35zM602.29 407.23h2.35v2.35h-2.35zM602.29 426.73h2.35v2.35h-2.35zM602.29 446.24h2.35v2.35h-2.35zM602.29 465.74h2.35v2.35h-2.35zM602.29 485.25h2.35v2.35h-2.35zM604.71 170.74h2.35v2.35h-2.35zM604.71 190.25h2.35v2.35h-2.35zM604.71 209.75h2.35v2.35h-2.35zM604.71 229.25h2.35v2.35h-2.35zM604.71 248.76h2.35v2.35h-2.35zM604.71 268.26h2.35v2.35h-2.35zM604.71 287.77h2.35v2.35h-2.35zM604.71 307.27h2.35v2.35h-2.35zM604.71 326.78h2.35v2.35h-2.35zM604.71 346.28h2.35v2.35h-2.35zM604.71 365.78h2.35v2.35h-2.35zM604.71 385.29h2.35v2.35h-2.35zM604.71 404.79h2.35v2.35h-2.35zM604.71 424.30h2.35v2.35h-2.35zM604.71 443.80h2.35v2.35h-2.35zM604.71 463.30h2.35v2.35h-2.35zM604.71 482.81h2.35v2.35h-2.35zM607.14 187.81h2.35v2.35h-2.35zM607.14 207.31h2.35v2.35h-2.35zM607.14 226.82h2.35v2.35h-2.35zM607.14 246.32h2.35v2.35h-2.35zM607.14 265.82h2.35v2.35h-2.35zM607.14 285.33h2.35v2.35h-2.35zM607.14 304.83h2.35v2.35h-2.35zM607.14 324.34h2.35v2.35h-2.35zM607.14 343.84h2.35v2.35h-2.35zM607.14 363.34h2.35v2.35h-2.35zM607.14 382.85h2.35v2.35h-2.35zM607.14 402.35h2.35v2.35h-2.35zM607.14 421.86h2.35v2.35h-2.35zM607.14 441.36h2.35v2.35h-2.35zM607.14 460.87h2.35v2.35h-2.35zM607.14 480.37h2.35v2.35h-2.35zM609.57 185.37h2.35v2.35h-2.35zM609.57 204.88h2.35v2.35h-2.35zM609.57 224.38h2.35v2.35h-2.35zM609.57 243.88h2.35v2.35h-2.35zM609.57 263.39h2.35v2.35h-2.35zM609.57 282.89h2.35v2.35h-2.35zM609.57 302.39h2.35v2.35h-2.35zM609.57 321.90h2.35v2.35h-2.35zM609.57 341.40h2.35v2.35h-2.35zM609.57 360.91h2.35v2.35h-2.35zM609.57 380.41h2.35v2.35h-2.35zM609.57 399.92h2.35v2.35h-2.35zM609.57 419.42h2.35v2.35h-2.35zM609.57 438.92h2.35v2.35h-2.35zM609.57 458.43h2.35v2.35h-2.35zM609.57 477.93h2.35v2.35h-2.35zM612.00 182.93h2.35v2.35h-2.35zM612.00 202.44h2.35v2.35h-2.35zM612.00 221.94h2.35v2.35h-2.35zM612.00 241.44h2.35v2.35h-2.35zM612.00 260.95h2.35v2.35h-2.35zM612.00 280.45h2.35v2.35h-2.35zM612.00 299.96h2.35v2.35h-2.35zM612.00 319.46h2.35v2.35h-2.35zM612.00 338.96h2.35v2.35h-2.35zM612.00 358.47h2.35v2.35h-2.35zM612.00 377.97h2.35v2.35h-2.35zM612.00 397.48h2.35v2.35h-2.35zM612.00 416.98h2.35v2.35h-2.35zM612.00 436.49h2.35v2.35h-2.35zM612.00 455.99h2.35v2.35h-2.35zM612.00 475.49h2.35v2.35h-2.35zM614.42 180.50h2.35v2.35h-2.35zM614.42 200.00h2.35v2.35h-2.35zM614.42 219.50h2.35v2.35h-2.35zM614.42 239.01h2.35v2.35h-2.35zM614.42 258.51h2.35v2.35h-2.35zM614.42 278.01h2.35v2.35h-2.35zM614.42 297.52h2.35v2.35h-2.35zM614.42 317.02h2.35v2.35h-2.35zM614.42 336.53h2.35v2.35h-2.35zM614.42 356.03h2.35v2.35h-2.35zM614.42 375.54h2.35v2.35h-2.35zM614.42 395.04h2.35v2.35h-2.35zM614.42 414.54h2.35v2.35h-2.35zM614.42 434.05h2.35v2.35h-2.35zM614.42 453.55h2.35v2.35h-2.35zM614.42 473.06h2.35v2.35h-2.35zM616.85 178.06h2.35v2.35h-2.35zM616.85 197.56h2.35v2.35h-2.35zM616.85 217.06h2.35v2.35h-2.35zM616.85 236.57h2.35v2.35h-2.35zM616.85 256.07h2.35v2.35h-2.35zM616.85 275.58h2.35v2.35h-2.35zM616.85 295.08h2.35v2.35h-2.35zM616.85 314.58h2.35v2.35h-2.35zM616.85 334.09h2.35v2.35h-2.35zM616.85 353.59h2.35v2.35h-2.35zM616.85 373.10h2.35v2.35h-2.35zM616.85 392.60h2.35v2.35h-2.35zM616.85 412.11h2.35v2.35h-2.35zM616.85 431.61h2.35v2.35h-2.35zM616.85 451.11h2.35v2.35h-2.35zM616.85 470.62h2.35v2.35h-2.35zM616.85 490.12h2.35v2.35h-2.35zM619.28 175.62h2.35v2.35h-2.35zM619.28 195.12h2.35v2.35h-2.35zM619.28 214.63h2.35v2.35h-2.35zM619.28 234.13h2.35v2.35h-2.35zM619.28 253.63h2.35v2.35h-2.35zM619.28 273.14h2.35v2.35h-2.35zM619.28 292.64h2.35v2.35h-2.35zM619.28 312.15h2.35v2.35h-2.35zM619.28 331.65h2.35v2.35h-2.35zM619.28 351.16h2.35v2.35h-2.35zM619.28 370.66h2.35v2.35h-2.35zM619.28 390.16h2.35v2.35h-2.35zM619.28 409.67h2.35v2.35h-2.35zM619.28 429.17h2.35v2.35h-2.35zM619.28 448.68h2.35v2.35h-2.35zM619.28 468.18h2.35v2.35h-2.35zM619.28 487.68h2.35v2.35h-2.35z" fill="#00B050" stroke="none"/>
<rect x="574.6" y="172.7" width="44.60" height="318.15" fill="none" stroke="#000" stroke-width="2"/>
<polyline points="138.5,283.95 254.4,281.6 369.5,280.0 483.4,276.9 596.8,275.9" fill="none" stroke="#00B050" stroke-width="1.8"/>
<circle cx="138.5" cy="283.95" r="5.6" fill="#00B050"/>
<circle cx="254.4" cy="281.6" r="5.6" fill="#00B050"/>
<circle cx="369.5" cy="280.0" r="5.6" fill="#00B050"/>
<circle cx="483.4" cy="276.9" r="5.6" fill="#00B050"/>
<circle cx="596.8" cy="275.9" r="5.6" fill="#00B050"/>
<path d="M83.6 69.2V492.25" stroke="#000" stroke-width="2.8" fill="none"/>
<path d="M654.4 69.2V492.25" stroke="#000" stroke-width="2.8" fill="none"/>
<path d="M82.19999999999999 490.85H655.8" stroke="#000" stroke-width="2.8" fill="none"/>
<path d="M83.6 420.79H93.19999999999999M654.4 420.79H644.0M83.6 350.73H93.19999999999999M654.4 350.73H644.0M83.6 280.67H93.19999999999999M654.4 280.67H644.0M83.6 210.62H93.19999999999999M654.4 210.62H644.0M83.6 140.56H93.19999999999999M654.4 140.56H644.0M83.6 70.50H93.19999999999999M654.4 70.50H644.0M197.76 490.85V481.55M311.92 490.85V481.55M426.08 490.85V481.55M540.24 490.85V481.55" stroke="#000" stroke-width="2.6" fill="none"/>
<text transform="translate(54.5,78.05) scale(0.96,1.03)" font-size="26.8" text-anchor="middle">85</text>
<text transform="translate(53.7,148.85) scale(0.96,1.03)" font-size="26.8" text-anchor="middle">80</text>
<text transform="translate(52.4,218.55) scale(0.96,1.03)" font-size="26.8" text-anchor="middle">75</text>
<text transform="translate(52.65,288.05) scale(0.96,1.03)" font-size="26.8" text-anchor="middle">70</text>
<text transform="translate(52.1,358.35) scale(0.96,1.03)" font-size="26.8" text-anchor="middle">65</text>
<text transform="translate(52.5,428.85) scale(0.96,1.03)" font-size="26.8" text-anchor="middle">60</text>
<text transform="translate(52.0,499.55) scale(0.96,1.03)" font-size="26.8" text-anchor="middle">55</text>
<text transform="translate(671.1,81.1) scale(0.97,1.03)" font-size="26.8" text-anchor="start">7.53</text>
<text transform="translate(671.1,149.3) scale(0.97,1.03)" font-size="26.8" text-anchor="start">7.52</text>
<text transform="translate(671.1,218.8) scale(0.97,1.03)" font-size="26.8" text-anchor="start">7.51</text>
<text transform="translate(671.1,288.3) scale(0.97,1.03)" font-size="26.8" text-anchor="start">7.50</text>
<text transform="translate(671.1,358.6) scale(0.97,1.03)" font-size="26.8" text-anchor="start">7.49</text>
<text transform="translate(671.1,428.8) scale(0.97,1.03)" font-size="26.8" text-anchor="start">7.48</text>
<text transform="translate(671.1,499.9) scale(0.97,1.03)" font-size="26.8" text-anchor="start">7.47</text>
<text transform="translate(139.5,525.15) scale(1.0,1.03)" font-size="26.8" text-anchor="middle">2018</text>
<text transform="translate(255.1,525.15) scale(1.0,1.03)" font-size="26.8" text-anchor="middle">2019</text>
<text transform="translate(365.2,525.15) scale(1.0,1.03)" font-size="26.8" text-anchor="middle">2020</text>
<text transform="translate(484.2,525.15) scale(1.0,1.03)" font-size="26.8" text-anchor="middle">2021</text>
<text transform="translate(592.3,525.15) scale(1.0,1.03)" font-size="26.8" text-anchor="middle">2022</text>
<text x="348.8" y="559.4" font-size="26.8" text-anchor="start" >Year</text>
<text transform="translate(19.3,384.9) rotate(-90)" font-size="26.8">GDP(Trillion RMB)</text>
<text transform="translate(759.8,397.3) rotate(-90)" font-size="26.8">GDP growth rate (%)</text>
<path clip-path="url(#cl)" d="M201.24 70.78h2.35v2.35h-2.35zM201.24 90.29h2.35v2.35h-2.35zM203.66 68.35h2.35v2.35h-2.35zM203.66 87.85h2.35v2.35h-2.35zM206.09 65.91h2.35v2.35h-2.35zM206.09 85.41h2.35v2.35h-2.35zM208.52 82.97h2.35v2.35h-2.35zM210.95 80.54h2.35v2.35h-2.35zM213.38 78.10h2.35v2.35h-2.35zM215.81 75.66h2.35v2.35h-2.35zM218.23 73.22h2.35v2.35h-2.35zM218.23 92.73h2.35v2.35h-2.35zM220.66 70.78h2.35v2.35h-2.35zM220.66 90.29h2.35v2.35h-2.35zM223.09 68.35h2.35v2.35h-2.35zM223.09 87.85h2.35v2.35h-2.35zM225.52 65.91h2.35v2.35h-2.35zM225.52 85.41h2.35v2.35h-2.35zM227.94 82.97h2.35v2.35h-2.35zM230.37 80.54h2.35v2.35h-2.35zM232.80 78.10h2.35v2.35h-2.35zM235.23 75.66h2.35v2.35h-2.35zM237.66 73.22h2.35v2.35h-2.35zM237.66 92.73h2.35v2.35h-2.35zM240.08 70.78h2.35v2.35h-2.35zM240.08 90.29h2.35v2.35h-2.35zM242.51 68.35h2.35v2.35h-2.35zM242.51 87.85h2.35v2.35h-2.35zM244.94 65.91h2.35v2.35h-2.35zM244.94 85.41h2.35v2.35h-2.35zM247.37 82.97h2.35v2.35h-2.35zM249.80 80.54h2.35v2.35h-2.35zM252.22 78.10h2.35v2.35h-2.35zM254.65 75.66h2.35v2.35h-2.35zM257.08 73.22h2.35v2.35h-2.35zM257.08 92.73h2.35v2.35h-2.35zM259.51 70.78h2.35v2.35h-2.35zM259.51 90.29h2.35v2.35h-2.35zM261.94 68.35h2.35v2.35h-2.35zM261.94 87.85h2.35v2.35h-2.35zM264.36 65.91h2.35v2.35h-2.35zM264.36 85.41h2.35v2.35h-2.35zM266.79 82.97h2.35v2.35h-2.35zM269.22 80.54h2.35v2.35h-2.35z" fill="#00B050" stroke="none"/>
<rect x="202.8" y="69.1" width="65.1" height="22.6" fill="none" stroke="#000" stroke-width="1.8"/>
<text x="285.9" y="88.9" font-size="26.6" text-anchor="start" >Real gdp</text>
<path d="M201.5 126.5H268.8" stroke="#00B050" stroke-width="1.8"/>
<circle cx="235.6" cy="126.5" r="5.5" fill="#00B050"/>
<text x="285.3" y="134.3" font-size="26.6" text-anchor="start" >Growth rate</text>
<text x="-1.1" y="29.8" font-size="43.5" font-weight="bold" style="font-family:&quot;Liberation Sans&quot;,sans-serif">A</text>
<text transform="translate(790.8,29.8) scale(0.94,1)" font-size="43.5" font-weight="bold" style="font-family:&quot;Liberation Sans&quot;,sans-serif">B</text>
<rect x="895.00" y="439.9" width="21.65" height="51.10" fill="#00B050" stroke="#000" stroke-width="2"/>
<rect x="925.27" y="224.2" width="21.65" height="266.80" fill="#FFC000" stroke="#000" stroke-width="2"/>
<rect x="955.54" y="405.4" width="21.65" height="85.60" fill="#7030A0" stroke="#000" stroke-width="2"/>
<rect x="1009.20" y="426.8" width="21.65" height="64.20" fill="#00B050" stroke="#000" stroke-width="2"/>
<rect x="1039.47" y="196.7" width="21.65" height="294.30" fill="#FFC000" stroke="#000" stroke-width="2"/>
<rect x="1069.74" y="379.3" width="21.65" height="111.70" fill="#7030A0" stroke="#000" stroke-width="2"/>
<rect x="1122.61" y="405.4" width="21.65" height="85.60" fill="#00B050" stroke="#000" stroke-width="2"/>
<rect x="1152.88" y="172.6" width="21.65" height="318.40" fill="#FFC000" stroke="#000" stroke-width="2"/>
<rect x="1183.14" y="344.4" width="21.65" height="146.60" fill="#7030A0" stroke="#000" stroke-width="2"/>
<rect x="1236.81" y="379.3" width="21.65" height="111.70" fill="#00B050" stroke="#000" stroke-width="2"/>
<rect x="1267.08" y="146.4" width="21.65" height="344.60" fill="#FFC000" stroke="#000" stroke-width="2"/>
<rect x="1297.35" y="317.3" width="21.65" height="173.70" fill="#7030A0" stroke="#000" stroke-width="2"/>
<rect x="1351.70" y="344.4" width="21.65" height="146.60" fill="#00B050" stroke="#000" stroke-width="2"/>
<rect x="1381.97" y="121.2" width="21.65" height="369.80" fill="#FFC000" stroke="#000" stroke-width="2"/>
<rect x="1412.24" y="270.0" width="21.65" height="221.00" fill="#7030A0" stroke="#000" stroke-width="2"/>
<path d="M878.9 69.2V492.4" stroke="#000" stroke-width="2.8" fill="none"/>
<path d="M877.5 491.0H1453" stroke="#000" stroke-width="2.8" fill="none"/>
<path d="M878.9 420.92H888.5M878.9 350.83H888.5M878.9 280.75H888.5M878.9 210.67H888.5M878.9 140.58H888.5M878.9 70.50H888.5M993.06 491.0V481.7M1107.22 491.0V481.7M1221.38 491.0V481.7M1335.54 491.0V481.7M1449.70 491.0V481.7" stroke="#000" stroke-width="2.6" fill="none"/>
<text transform="translate(851.4,78.6) scale(0.97,1.03)" font-size="26.8" text-anchor="middle">8</text>
<text transform="translate(849.5,149.3) scale(0.97,1.03)" font-size="26.8" text-anchor="middle">7</text>
<text transform="translate(849.3,219.0) scale(0.97,1.03)" font-size="26.8" text-anchor="middle">6</text>
<text transform="translate(848.9,288.9) scale(0.97,1.03)" font-size="26.8" text-anchor="middle">5</text>
<text transform="translate(848.85,358.8) scale(0.97,1.03)" font-size="26.8" text-anchor="middle">4</text>
<text transform="translate(848.5,429.3) scale(0.97,1.03)" font-size="26.8" text-anchor="middle">3</text>
<text transform="translate(849.4,499.45) scale(0.97,1.03)" font-size="26.8" text-anchor="middle">2</text>
<text transform="translate(935.9,524.9) scale(1.0,1.03)" font-size="26.8" text-anchor="middle">2018</text>
<text transform="translate(1051.4,524.9) scale(1.0,1.03)" font-size="26.8" text-anchor="middle">2019</text>
<text transform="translate(1161.5,524.9) scale(1.0,1.03)" font-size="26.8" text-anchor="middle">2020</text>
<text transform="translate(1280.5,524.9) scale(1.0,1.03)" font-size="26.8" text-anchor="middle">2021</text>
<text transform="translate(1388.4,524.9) scale(1.0,1.03)" font-size="26.8" text-anchor="middle">2022</text>
<text x="1156.4" y="560.1" font-size="26.8" text-anchor="start" >Year</text>
<text transform="translate(822.2,435.9) rotate(-90)" font-size="26.8">Negative growth rate (%)</text>
<rect x="1027.6" y="36.50" width="65.6" height="23.2" fill="#00B050" stroke="#000" stroke-width="1.8"/>
<text x="1106.6" y="57.2" font-size="26.6" text-anchor="start" >Real gdp</text>
<rect x="1027.6" y="71.10" width="65.6" height="23.2" fill="#FFC000" stroke="#000" stroke-width="1.8"/>
<text x="1106.6" y="92.1" font-size="26.6" text-anchor="start" >Total carbon emissions</text>
<rect x="1027.6" y="105.50" width="65.6" height="23.2" fill="#7030A0" stroke="#000" stroke-width="1.8"/>
<text x="1106.6" y="127.5" font-size="26.6" text-anchor="start" >Carbon intensity</text>
</svg>
</body></html>
